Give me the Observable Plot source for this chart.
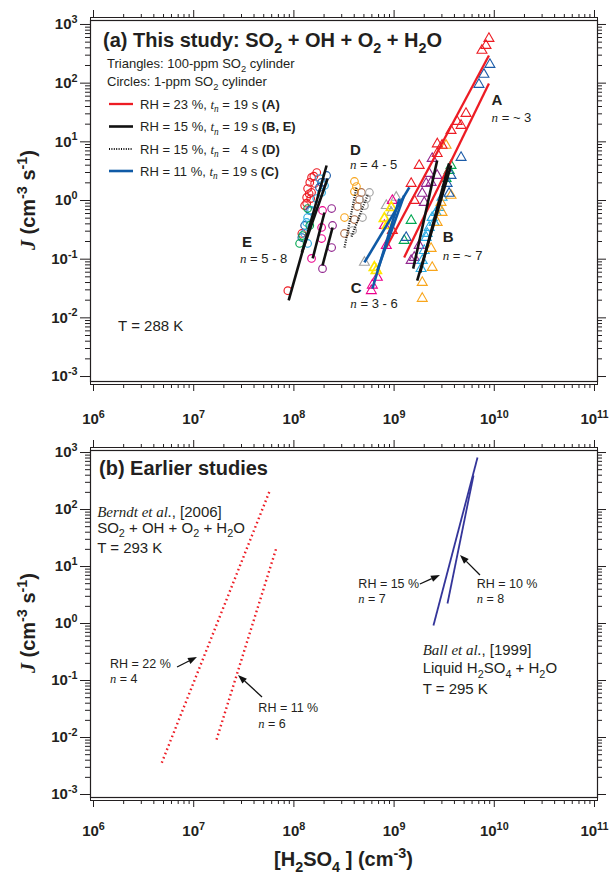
<!DOCTYPE html>
<html><head><meta charset="utf-8">
<script src="https://cdn.jsdelivr.net/npm/d3@7"></script>
<script src="https://cdn.jsdelivr.net/npm/@observablehq/plot@0.6"></script>
<style>
body{margin:0;background:#fff;}
#wrap{width:609px;}
#wrap svg{display:block;}
</style></head><body><div id="wrap"></div>
<script>
// ---------------- DATA (x = [H2SO4] cm^-3, J = cm^-3 s^-1) ----------------
// Panel (a): circles (1-ppm SO2 cylinder)
const circRed    = [[1.69e8,3.0],[1.58e8,2.6],[1.5e8,2.47],[1.44e8,2.03],[1.61e8,1.95],[1.37e8,1.6],[1.5e8,1.37],[1.42e8,1.3],[1.34e8,1.13],[1.47e8,1.08],[1.28e8,0.82],[1.34e8,0.9],[1.2e8,0.274],[8.7e7,0.029]];
const circBlue   = [[2.12e8,2.67],[1.89e8,2.03],[1.8e8,1.67],[1.44e8,0.676],[1.28e8,0.375],[1.2e8,0.234]];
const circCyan   = [[2.02e8,1.8],[1.8e8,2.37],[1.89e8,1.37],[1.69e8,1.08],[1.5e8,0.676],[1.37e8,0.513],[1.34e8,0.422],[1.28e8,0.274],[1.37e8,0.185]];
const circGreen  = [[1.37e8,0.73],[1.44e8,0.375],[1.22e8,0.253],[1.14e8,0.185]];
const circPink   = [[1.93e8,0.676],[1.89e8,0.347],[1.89e8,0.225],[1.5e8,0.103]];
const circPurple = [[2.38e8,0.73],[2.43e8,0.375],[2.38e8,0.158],[1.93e8,0.069]];
const circOrange = [[4.02e8,2.11],[4.21e8,1.73],[4.02e8,1.42],[3.2e8,0.513]];
const circBrown  = [[4.72e8,1.37],[4.51e8,1.04],[4.31e8,0.79],[4.02e8,0.474],[3.2e8,0.274]];
const circGray   = [[5.67e8,1.37],[5.3e8,1.08],[5.06e8,0.82],[4.83e8,0.513],[3.85e8,0.308]];
// Panel (a): triangles (100-ppm SO2 cylinder)
const triRed    = [[8.84e9,577],[8.26e9,438],[7.53e9,361],[5.22e9,30.4],[4.25e9,22.2],[4.66e9,19],[3.7e9,15.6],[3.01e9,8.7],[2.7e9,9.2],[2.69e9,6.3],[1.78e9,3.95],[1.48e9,1.95],[1.59e9,1.0],[9.6e8,0.308]];
const triBlue   = [[9.04e9,208],[7.88e9,141],[7.03e9,95],[4.66e9,5.4],[3.7e9,2.67],[3.38e9,1.95],[3.54e9,1.32],[1.32e9,0.234]];
const triGreen  = [[3.7e9,3.95],[3.54e9,3.25],[3.3e9,2.37],[1.48e9,0.456],[1.26e9,0.208]];
const triPurple = [[2.4e9,5.2],[2.24e9,2.88],[2.69e9,2.67],[2.34e9,2.03],[2.09e9,1.95],[1.91e9,1.32],[2.0e9,0.925],[1.78e9,0.171],[1.59e9,0.107],[1.48e9,0.095]];
const triCyan   = [[3.01e9,1.13],[2.81e9,0.76],[2.63e9,0.624],[2.4e9,0.513],[2.51e9,0.422],[2.24e9,0.347],[2.14e9,0.274],[2.09e9,0.234],[2.0e9,0.14],[1.91e9,0.095],[1.86e9,0.069]];
const triOrange = [[3.3e9,8.7],[3.7e9,1.22],[2.94e9,0.925],[3.01e9,0.624],[2.69e9,0.422],[2.34e9,0.152],[2.4e9,0.072],[1.91e9,0.04],[1.91e9,0.0214]];
const triGray   = [[5.06e8,0.088],[8.36e8,0.82],[1.05e9,1.13],[9.38e8,0.624]];
const triYellow = [[6.35e8,0.072],[6.65e8,0.064],[8.0e8,0.493],[9.38e8,0.76],[8.56e8,0.375]];
const triPink   = [[9.6e8,1.0],[8.0e8,0.375],[8.36e8,0.171],[6.8e8,0.049],[6.07e8,0.036],[5.93e8,0.029]];
// Panel (a): power-law fits [x1, J1, x2, J2]
const fitA = [[8.36e8,0.158,8.84e9,296],[1.26e9,0.107,8.84e9,98.6]];
const fitB = [[1.55e9,0.069,2.69e9,4.8],[1.7e9,0.043,3.7e9,3.95],[1.82e9,0.059,3.54e9,4.28]];
const fitE = [[8.87e7,0.0198,2.12e8,3.95],[1.2e8,0.13,2.17e8,2.37],[1.54e8,0.103,2.02e8,0.624],[1.93e8,0.078,2.43e8,0.347]];
const fitD = [[3.2e8,0.158,4.21e8,1.67],[3.76e8,0.243,5.42e8,1.22]];
const fitC = [[5.06e8,0.088,1.42e9,1.67],[6.07e8,0.0316,1.13e9,1.08],[6.8e8,0.064,1.26e9,1.22]];
// Panel (b): earlier studies [x1, J1, x2, J2]
const berndt = [[4.8e6,0.0036,5.7e7,207],[1.69e7,0.0092,6.7e7,21.5]];
const ball   = [[2.47e9,0.92,6.8e9,817],[3.41e9,2.24,6.2e9,395]];
// Arrows in panel (b) [x1, J1, x2, J2]
const arrowsB = [[6.9e6,0.169,1.09e7,0.254],[4.86e7,0.0504,2.8e7,0.1225],[1.83e9,4.83,2.9e9,6.95],[7.28e9,6.95,4.6e9,15.6]];
// Tick exponents
const xDecades = [6,7,8,9,10,11];
const yDecades = [-3,-2,-1,0,1,2,3];

// ---------------- STYLE ----------------
const FONT = "'Liberation Sans', Arial, Helvetica, sans-serif";
const SERIF = "'Liberation Serif', 'Times New Roman', serif";
const INK = "#231f20";
const pal = {red:"#ed1c24", blue:"#1c5ba8", cyan:"#29abe2", green:"#00a651", pink:"#ec008c",
  purple:"#92278f", orange:"#f8a51b", brown:"#b0704a", gray:"#a3a3a3", yellow:"#ffe600"};

const circles = [[circRed,pal.red],[circBlue,pal.blue],[circCyan,pal.cyan],[circGreen,pal.green],[circPink,pal.pink],
  [circPurple,pal.purple],[circOrange,pal.orange],[circBrown,pal.brown],[circGray,pal.gray]]
  .flatMap(([pts,c]) => pts.map(([x,J]) => ({x,J,c})));
const triangles = [[triGray,pal.gray],[triPink,pal.pink],[triYellow,pal.yellow],[triPurple,pal.purple],[triCyan,pal.cyan],
  [triOrange,pal.orange],[triGreen,pal.green],[triBlue,pal.blue],[triRed,pal.red]]
  .flatMap(([pts,c]) => pts.map(([x,J]) => ({x,J,c,w: c===pal.yellow?1.7:1.1})));
const seg = arr => arr.map(([x1,J1,x2,J2]) => ({x1,J1,x2,J2}));

const xMaj = xDecades.map(e => 10**e);
const xMin = xDecades.slice(0,-1).flatMap(e => d3.range(2,10).map(m => m*10**e));
const yMaj = yDecades.map(e => 10**e);
const yMin = yDecades.slice(0,-1).flatMap(e => d3.range(2,10).map(m => m*10**e));
const xDomain = [10**5.97, 10**11.03];

function axes(padX) {
  const sup = d => "10^" + Math.round(Math.log10(d));
  const blank = () => "";
  return [
    Plot.axisX({ticks:xMaj, anchor:"bottom", tickSize:7, tickPadding:padX, tickFormat:sup, fontSize:15, fontWeight:"bold", label:null}),
    Plot.axisX({ticks:xMin, anchor:"bottom", tickSize:4, tickFormat:blank, label:null}),
    Plot.axisX({ticks:xMaj, anchor:"top", tickSize:8, tickFormat:blank, label:null}),
    Plot.axisX({ticks:xMin, anchor:"top", tickSize:4, tickFormat:blank, label:null}),
    Plot.axisY({ticks:yMaj, anchor:"left", tickSize:10, tickPadding:3, tickFormat:sup, fontSize:15, fontWeight:"bold", label:null}),
    Plot.axisY({ticks:yMin, anchor:"left", tickSize:5, tickFormat:blank, label:null}),
    Plot.axisY({ticks:yMaj, anchor:"right", tickSize:8, tickFormat:blank, label:null}),
    Plot.axisY({ticks:yMin, anchor:"right", tickSize:4, tickFormat:blank, label:null})
  ];
}

function rich(t, markup, size) {
  const re = /(_\{[^}]*\}|\^\{[^}]*\}|\*[^*]+\*|![^!]+!)/g;
  const parts = markup.split(re).filter(s => s);
  let shift = 0;
  for (const p of parts) {
    let txt = p, fs = size, target = 0, italic = false, bold = false;
    if (p.startsWith("_{")) { txt = p.slice(2,-1); fs = size*0.72; target = size*0.28; }
    else if (p.startsWith("^{")) { txt = p.slice(2,-1); fs = size*0.72; target = -size*0.42; }
    else if (p.length > 2 && p.startsWith("*") && p.endsWith("*")) { txt = p.slice(1,-1); italic = true; }
    else if (p.length > 2 && p.startsWith("!") && p.endsWith("!")) { txt = p.slice(1,-1); bold = true; }
    if (txt.length > 2 && txt.startsWith("*") && txt.endsWith("*")) { txt = txt.slice(1,-1); italic = true; }
    const ts = t.append("tspan").text(txt).attr("font-size", fs);
    if (target !== shift) ts.attr("dy", (target - shift).toFixed(2));
    shift = target;
    if (italic) ts.attr("font-style","italic").attr("font-family", SERIF);
    if (bold) ts.attr("font-weight","bold");
  }
}
function ann(svg, x, y, markup, size, o = {}) {
  const t = d3.select(svg).append("text").attr("x", x).attr("y", y)
    .attr("font-family", FONT).attr("font-size", size).attr("fill", INK)
    .attr("text-anchor", o.anchor || "start").style("white-space","pre");
  if (o.bold) t.attr("font-weight","bold");
  if (o.rotate) t.attr("transform", `rotate(-90 ${x} ${y})`);
  rich(t, markup, size);
  return t;
}
function fixTicks(svg) {
  d3.select(svg).selectAll("text").each(function() {
    const m = /^10\^(-?\d+)$/.exec(this.textContent);
    if (m) { const s = d3.select(this); s.text(""); rich(s, "10^{" + m[1] + "}", 15); }
  });
}

const baseStyle = {fontFamily: FONT, fontSize: "15px", color: INK, background: "white", overflow: "visible"};

// ---------------- PANEL (a) ----------------
const topPlot = Plot.plot({
  width: 609, height: 436, marginLeft: 90, marginRight: 12, marginTop: 17, marginBottom: 52,
  style: baseStyle,
  x: {type: "log", domain: xDomain, label: null},
  y: {type: "log", domain: [10**-3.136, 10**3.119], label: null},
  marks: [
    Plot.frame({stroke: INK, strokeWidth: 1}),
    Plot.frame({stroke: INK, strokeWidth: 1.2, insetTop: 3, insetBottom: 3}),
    ...axes(22),
    Plot.dot(circles, {x:"x", y:"J", stroke: d => d.c, fill:"none", symbol:"circle", r:3.8, strokeWidth:1.15}),
    Plot.dot(triangles, {x:"x", y:"J", stroke: d => d.c, fill:"none", symbol:"triangle", r:3.7, strokeWidth: d => d.w}),
    Plot.link(seg(fitA), {x1:"x1", y1:"J1", x2:"x2", y2:"J2", stroke: pal.red, strokeWidth: 2.3}),
    Plot.link(seg(fitC), {x1:"x1", y1:"J1", x2:"x2", y2:"J2", stroke: "#0f5aa6", strokeWidth: 2.6}),
    Plot.link(seg(fitB), {x1:"x1", y1:"J1", x2:"x2", y2:"J2", stroke: "#111", strokeWidth: 2.6}),
    Plot.link(seg(fitE), {x1:"x1", y1:"J1", x2:"x2", y2:"J2", stroke: "#111", strokeWidth: 2.6}),
    Plot.link(seg(fitD), {x1:"x1", y1:"J1", x2:"x2", y2:"J2", stroke: "#111", strokeWidth: 2.2, strokeDasharray: "1,1.4"})
  ],
  color: {type: "identity"}
});

// ---------------- PANEL (b) ----------------
const botPlot = Plot.plot({
  width: 609, height: 438, marginLeft: 90, marginRight: 12, marginTop: 11, marginBottom: 74,
  style: baseStyle,
  x: {type: "log", domain: xDomain, label: null},
  y: {type: "log", domain: [10**-3.105, 10**3.088], label: null},
  marks: [
    Plot.frame({stroke: INK, strokeWidth: 1}),
    Plot.frame({stroke: INK, strokeWidth: 1.2, insetTop: 3, insetBottom: 3}),
    ...axes(18),
    Plot.link(seg(berndt), {x1:"x1", y1:"J1", x2:"x2", y2:"J2", stroke: pal.red, strokeWidth: 2.4, strokeDasharray: "1.6,3", strokeLinecap: "butt"}),
    Plot.link(seg(ball), {x1:"x1", y1:"J1", x2:"x2", y2:"J2", stroke: "#34359a", strokeWidth: 1.8})
  ]
});

const wrap = document.getElementById("wrap");
wrap.append(topPlot, botPlot);
fixTicks(topPlot); fixTicks(botPlot);

// ---------------- ANNOTATIONS ----------------
{
  const sx = topPlot.scale("x").apply, sy = topPlot.scale("y").apply;
  const svg = topPlot;
  ann(svg, 35, sy(1), "*J* (cm^{-3} s^{-1})", 20, {bold:true, anchor:"middle", rotate:true});
  ann(svg, 103, 47, "(a) This study: SO_{2} + OH + O_{2} + H_{2}O", 20, {bold:true});
  ann(svg, 107, 68, "Triangles: 100-ppm SO_{2} cylinder", 13);
  ann(svg, 107, 86, "Circles: 1-ppm SO_{2} cylinder", 13);
  const legend = [
    {y:104, stroke: pal.red, w:2.3, dash:null, text:"RH = 23 %, *t*_{*n*} = 19 s !(A)!"},
    {y:126.5, stroke:"#111", w:2.6, dash:null, text:"RH = 15 %, *t*_{*n*} = 19 s !(B, E)!"},
    {y:149, stroke:"#111", w:2.2, dash:"1,1.4", text:"RH = 15 %, *t*_{*n*} = \u20074 s !(D)!"},
    {y:171, stroke:"#0f5aa6", w:2.6, dash:null, text:"RH = 11 %, *t*_{*n*} = 19 s !(C)!"}
  ];
  for (const l of legend) {
    d3.select(svg).append("line").attr("x1",109).attr("x2",133).attr("y1",l.y).attr("y2",l.y)
      .attr("stroke",l.stroke).attr("stroke-width",l.w).attr("stroke-dasharray",l.dash);
    ann(svg, 140, l.y + 4.8, l.text, 13);
  }
  const notes = [
    {x:9.5e9, J:41.6, t:"A", s:15, b:true}, {x:9.5e9, J:21.6, t:"*n* = ~ 3", s:13},
    {x:3.09e9, J:0.189, t:"B", s:15, b:true}, {x:3.09e9, J:0.095, t:"*n* = ~ 7", s:13},
    {x:3.73e8, J:0.026, t:"C", s:15, b:true}, {x:3.7e8, J:0.01426, t:"*n* = 3 - 6", s:13},
    {x:3.67e8, J:5.85, t:"D", s:15, b:true}, {x:3.67e8, J:3.33, t:"*n* = 4 - 5", s:13},
    {x:3.07e7, J:0.16, t:"E", s:15, b:true}, {x:2.93e7, J:0.0834, t:"*n* = 5 - 8", s:13},
    {x:1.78e6, J:0.00585, t:"T = 288 K", s:15}
  ];
  for (const n of notes) ann(svg, sx(n.x), sy(n.J), n.t, n.s, {bold:n.b});
}
{
  const sx = botPlot.scale("x").apply, sy = botPlot.scale("y").apply;
  const svg = botPlot;
  ann(svg, 35, sy(1), "*J* (cm^{-3} s^{-1})", 20, {bold:true, anchor:"middle", rotate:true});
  ann(svg, 343.5, 430, "[H_{2}SO_{4} ] (cm^{-3})", 20, {bold:true, anchor:"middle"});
  ann(svg, 99, 39, "(b) Earlier studies", 20, {bold:true});
  const notes = [
    {x:1.1e6, J:73.3, t:"*Berndt et al.*, [2006]", s:15},
    {x:1.1e6, J:37.9, t:"SO_{2} + OH + O_{2} + H_{2}O", s:15},
    {x:1.1e6, J:16.9, t:"T = 293 K", s:15},
    {x:1.48e6, J:0.1625, t:"RH = 22 %", s:12.5}, {x:1.48e6, J:0.0885, t:"*n* = 4", s:12.5},
    {x:4.47e7, J:0.0278, t:"RH = 11 %", s:12.5}, {x:4.47e7, J:0.0144, t:"*n* = 6", s:12.5},
    {x:4.45e8, J:4.06, t:"RH = 15 %", s:12.5}, {x:4.45e8, J:2.24, t:"*n* = 7", s:12.5},
    {x:6.75e9, J:4.06, t:"RH = 10 %", s:12.5}, {x:6.75e9, J:2.24, t:"*n* = 8", s:12.5},
    {x:1.95e9, J:0.275, t:"*Ball et al.*, [1999]", s:15},
    {x:1.95e9, J:0.131, t:"Liquid H_{2}SO_{4} + H_{2}O", s:15},
    {x:1.95e9, J:0.0568, t:"T = 295 K", s:15}
  ];
  for (const n of notes) ann(svg, sx(n.x), sy(n.J), n.t, n.s);
  const g = d3.select(svg).append("g").attr("fill", "#111").attr("stroke", "#111");
  for (const [a1,b1,a2,b2] of arrowsB) {
    const x1 = sx(a1), y1 = sy(b1), x2 = sx(a2), y2 = sy(b2);
    const ang = Math.atan2(y2-y1, x2-x1), L = 9, H = 3.3;
    const bx = x2 - L*Math.cos(ang), by = y2 - L*Math.sin(ang);
    g.append("line").attr("x1",x1).attr("y1",y1).attr("x2",bx).attr("y2",by).attr("stroke-width",1.3);
    g.append("polygon").attr("stroke","none").attr("points",
      [[x2,y2],[bx + H*Math.sin(ang), by - H*Math.cos(ang)],[bx - H*Math.sin(ang), by + H*Math.cos(ang)]].map(p=>p.join(",")).join(" "));
  }
}
</script>
</body></html>
